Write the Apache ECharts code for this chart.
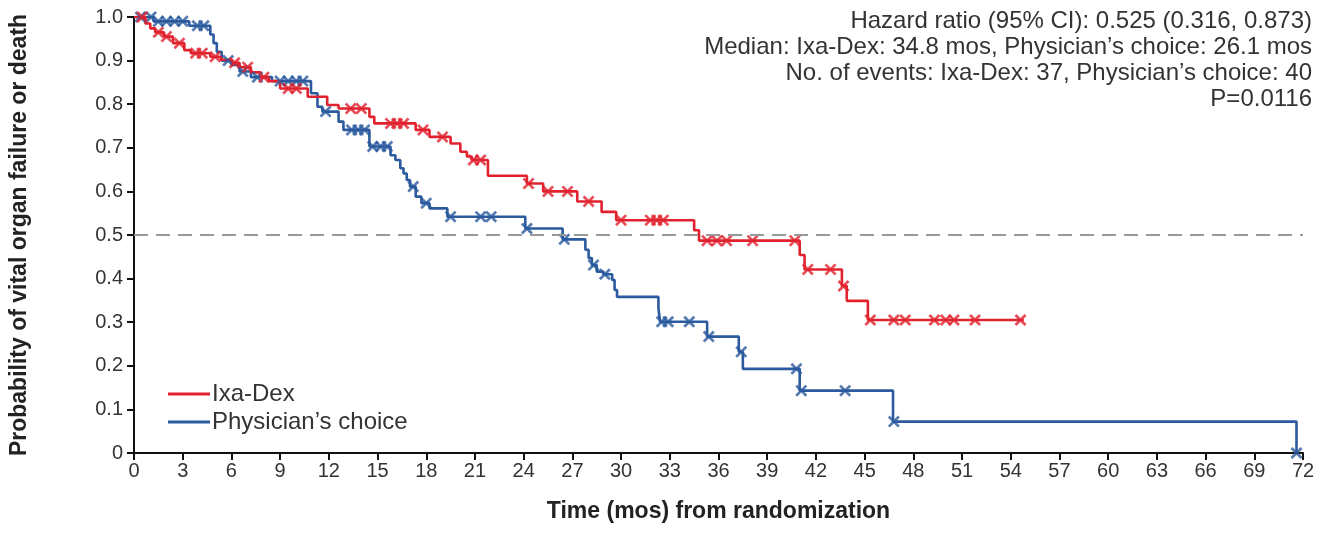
<!DOCTYPE html>
<html>
<head>
<meta charset="utf-8">
<title>KM curve</title>
<script src="https://cdn.jsdelivr.net/npm/echarts@6/dist/echarts.min.js"></script>
<style>
  html, body { margin: 0; padding: 0; background: #fff; }
  #main { width: 1328px; height: 548px; }
</style>
</head>
<body>
<div id="main"></div>
<script>
// x axis ticks (months) and y axis ticks
var xTicks = [0, 3, 6, 9, 12, 15, 18, 21, 24, 27, 30, 33, 36, 39, 42, 45, 48, 51, 54, 57, 60, 63, 66, 69, 72];
var yTicks = [0, 0.1, 0.2, 0.3, 0.4, 0.5, 0.6, 0.7, 0.8, 0.9, 1.0];

// Ixa-Dex: event times and survival after each event
var ixaTimes = [0, 0.7, 1.0, 1.3, 1.85, 2.4, 3.1, 3.5, 4.7, 5.35, 6.0, 6.5, 7.2, 7.8, 8.3, 9.0, 10.7, 11.9, 12.6,
  14.5, 14.8, 17.35, 18.2, 19.5, 20.1, 20.5, 20.8, 21.8, 24.2, 25.2, 27.3, 28.8, 29.7, 34.5, 34.8,
  41.0, 41.3, 43.6, 43.9, 45.2, 54.8];
var ixaSurv = [1.0, 0.985, 0.974, 0.965, 0.955, 0.94, 0.924, 0.917, 0.909, 0.902, 0.895, 0.885, 0.873, 0.862, 0.853, 0.836, 0.817, 0.798, 0.79,
  0.771, 0.756, 0.741, 0.725, 0.71, 0.691, 0.68, 0.672, 0.636, 0.618, 0.6, 0.577, 0.553, 0.534, 0.511, 0.487,
  0.454, 0.421, 0.383, 0.349, 0.305, 0.305];
var ixaCensor = [0.5, 1.5, 2.0, 2.8, 3.8, 4.2, 5.0, 6.2, 7.0, 8.0, 9.5, 10.0, 13.35, 14.0, 15.8, 16.2, 16.6, 17.8, 19.0,
  20.9, 21.35, 24.3, 25.5, 26.7, 28.0, 30.0, 31.8, 32.2, 32.6, 35.3, 35.9, 36.5, 38.1, 40.7, 41.5, 42.9, 43.7,
  45.35, 46.8, 47.5, 49.3, 50.0, 50.5, 51.8, 54.6];

// Physician's choice
var pcTimes = [0, 1.2, 3.4, 4.7, 4.9, 5.1, 5.4, 6.0, 6.5, 7.2, 8.5, 10.9, 11.3, 11.6, 12.6, 12.9, 14.5, 15.8, 16.1,
  16.4, 16.6, 16.8, 17.0, 17.35, 17.7, 18.2, 19.3, 24.1, 26.4, 27.8, 28.0, 28.2, 28.5, 28.9, 29.45, 29.6, 29.75,
  32.3, 32.4, 35.3, 37.25, 37.5, 41.0, 46.75, 71.6];
var pcSurv = [1.0, 0.99, 0.98, 0.96, 0.94, 0.92, 0.9, 0.89, 0.875, 0.862, 0.853, 0.825, 0.794, 0.783, 0.76, 0.741, 0.703, 0.683, 0.672,
  0.653, 0.641, 0.626, 0.611, 0.588, 0.573, 0.561, 0.542, 0.515, 0.49, 0.466, 0.447, 0.431, 0.416, 0.41, 0.397, 0.374, 0.358,
  0.332, 0.301, 0.267, 0.232, 0.193, 0.143, 0.072, 0.0];
var pcCensor = [0.4, 1.05, 1.5, 2.0, 2.5, 3.0, 3.9, 4.3, 5.8, 6.7, 7.6, 9.0, 9.5, 10.0, 10.4, 11.8, 13.4, 13.8, 14.2, 14.7,
  15.2, 15.6, 17.2, 18.0, 19.5, 21.35, 22.0, 24.2, 26.5, 28.3, 29.0, 32.5, 32.9, 34.2, 35.4, 37.4, 40.8, 41.1, 43.8,
  46.8, 71.6];

var annotLines = [
  'Hazard ratio (95% CI): 0.525 (0.316, 0.873)',
  'Median: Ixa-Dex: 34.8 mos, Physician\u2019s choice: 26.1 mos',
  'No. of events: Ixa-Dex: 37, Physician\u2019s choice: 40',
  'P=0.0116'
];

var RED = '#e1222e';
var BLUE = '#2b5a9e';
var FONT = '"Liberation Sans", Arial, sans-serif';
var X_MARK = 'path://M0,1.6 L1.6,0 L5,3.4 L8.4,0 L10,1.6 L6.6,5 L10,8.4 L8.4,10 L5,6.6 L1.6,10 L0,8.4 L3.4,5 Z';

function pairs(ts, ps) {
  return ts.map(function (t, i) { return [t, ps[i]]; });
}
// survival value at a censor time
function survAt(ts, ps, t) {
  var v = ps[0];
  for (var i = 0; i < ts.length; i++) {
    if (ts[i] <= t) v = ps[i];
  }
  return v;
}
function censorPts(ts, ps, cs) {
  return cs.map(function (c) { return [c, survAt(ts, ps, c)]; });
}

var chart = echarts.init(document.getElementById('main'));
chart.setOption({
  backgroundColor: '#fff',
  animation: false,
  textStyle: { fontFamily: FONT },
  grid: { left: 133, right: 25, top: 17, bottom: 95 },
  legend: {
    data: ['Ixa-Dex', 'Physician\u2019s choice'],
    orient: 'vertical',
    left: 163,
    top: 377,
    itemWidth: 42,
    itemHeight: 3,
    itemGap: 4,
    icon: 'rect',
    textStyle: { fontSize: 24, color: '#333', fontFamily: FONT, padding: [0, 0, 0, -3] }
  },
  xAxis: {
    type: 'value',
    min: 0,
    max: 72,
    interval: 3,
    name: 'Time (mos) from randomization',
    nameLocation: 'middle',
    nameGap: 47,
    nameTextStyle: { fontSize: 23, fontWeight: 'bold', color: '#222', fontFamily: FONT },
    axisLine: { lineStyle: { color: '#111', width: 2 } },
    axisTick: { length: 7, lineStyle: { color: '#111', width: 2 } },
    axisLabel: { fontSize: 20, color: '#333', margin: 8, fontFamily: FONT },
    splitLine: { show: false }
  },
  yAxis: {
    type: 'value',
    min: 0,
    max: 1,
    interval: 0.1,
    name: 'Probability of vital organ failure or death',
    nameLocation: 'middle',
    nameGap: 103,
    nameTextStyle: { fontSize: 23, fontWeight: 'bold', color: '#222', fontFamily: FONT },
    axisLine: { show: true, lineStyle: { color: '#111', width: 2 } },
    axisTick: { show: true, length: 7, lineStyle: { color: '#111', width: 2 } },
    axisLabel: {
      fontSize: 20, color: '#333', margin: 11, fontFamily: FONT,
      formatter: function (v) { return v === 0 ? '0' : v.toFixed(1); }
    },
    splitLine: { show: false }
  },
  graphic: annotLines.map(function (s, i) {
    return {
      type: 'text',
      right: 16,
      top: 9 + i * 26,
      style: { text: s, fill: '#333', font: '24px ' + FONT, textAlign: 'right' }
    };
  }),
  series: [
    {
      name: 'Ixa-Dex',
      type: 'line',
      step: 'end',
      showSymbol: false,
      data: pairs(ixaTimes, ixaSurv),
      lineStyle: { color: RED, width: 2.6 },
      itemStyle: { color: RED },
      z: 3,
      markLine: {
        silent: true,
        symbol: 'none',
        label: { show: false },
        lineStyle: { color: '#999', width: 2, type: [14, 8] },
        data: [{ yAxis: 0.5 }]
      }
    },
    {
      name: 'Physician\u2019s choice',
      type: 'line',
      step: 'end',
      showSymbol: false,
      data: pairs(pcTimes, pcSurv),
      lineStyle: { color: BLUE, width: 2.6 },
      itemStyle: { color: BLUE },
      z: 2
    },
    {
      name: 'Ixa-Dex censored',
      type: 'scatter',
      symbol: X_MARK,
      symbolSize: 12,
      data: censorPts(ixaTimes, ixaSurv, ixaCensor),
      itemStyle: { color: RED },
      z: 4
    },
    {
      name: 'PC censored',
      type: 'scatter',
      symbol: X_MARK,
      symbolSize: 12,
      data: censorPts(pcTimes, pcSurv, pcCensor),
      itemStyle: { color: BLUE },
      z: 3
    }
  ]
});
</script>
</body>
</html>
